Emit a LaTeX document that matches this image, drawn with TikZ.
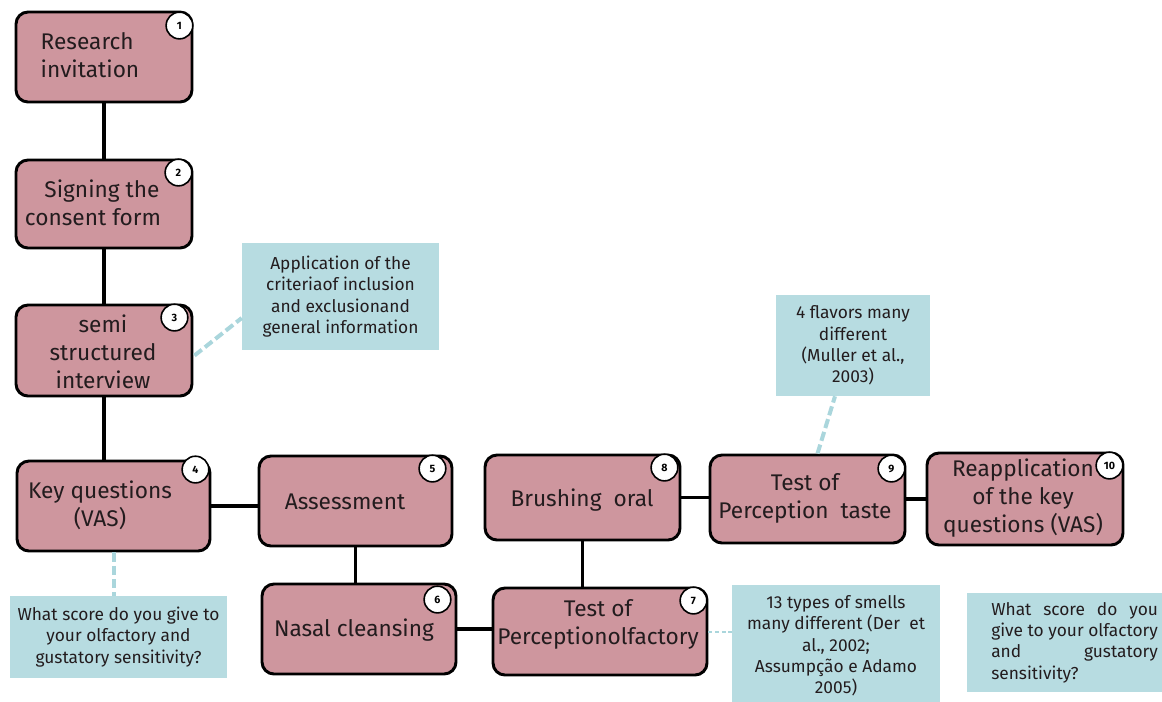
\documentclass[tikz,border=0pt]{standalone}
\usepackage{fontspec}
\setmainfont{Fira Sans}
\usetikzlibrary{calc}
\definecolor{pinkbox}{RGB}{206,150,158}
\definecolor{bluebox}{RGB}{183,220,225}
\definecolor{blueline}{RGB}{170,214,220}
\definecolor{txt}{RGB}{35,28,30}
\newcommand{\jline}[1]{\makebox[125pt][s]{#1}}
\tikzset{
  pbox/.style={draw=black, line width=2.2pt, fill=pinkbox, rounded corners=9pt, inner sep=0pt,
    text=txt, align=center, font=\fontsize{17}{21}\selectfont},
  bbox/.style={fill=bluebox, inner sep=0pt, text=txt, align=center, font=\fontsize{13}{16}\selectfont},
  num/.style={circle, draw=black, line width=1.2pt, fill=white, minimum size=20pt, inner sep=0pt,
    font=\fontsize{8}{8}\selectfont\bfseries},
  conn/.style={line width=2.4pt, draw=black},
  dconn/.style={line width=3pt, draw=blueline, dash pattern=on 7pt off 3pt},
}
\begin{document}
\begin{tikzpicture}[x=0.75pt,y=-0.75pt]
\useasboundingbox[fill=white] (0,0) rectangle (1162,701);
\begin{scope}
\clip (0,0) rectangle (1162,701);
% blue note boxes
\node[bbox, minimum width=147.75pt, minimum height=80.25pt] (bb3) at (340.5,296.5)
  {Application of the\\criteriaof inclusion\\and exclusionand\\general information};
\node[bbox, minimum width=162.75pt, minimum height=61.5pt] (bb4) at (118.5,637)
  {What score do you give to\\your olfactory and\\gustatory sensitivity?};
\node[bbox, minimum width=156pt, minimum height=101.25pt] (bb7) at (836,652.5) {};
\node[bbox] (tb7) at (836,646)
  {13 types of smells\\many different (Der\ \ et\\al., 2002;\\Assumpção e Adamo\\2005)};
\node[bbox, minimum width=115.5pt, minimum height=75.75pt] (bb9) at (853,345.5)
  {4 flavors many\\different\\(Muller et al.,\\2003)};
\node[bbox, minimum width=160pt, minimum height=74.25pt, anchor=west] (bb10) at (967,642.5) {};
\node[bbox, align=left, anchor=west] (tb10) at (991,642.5)
  {\jline{What score do you}\\\jline{give to your olfactory}\\\jline{and gustatory}\\sensitivity?};

% pink step boxes
\node[pbox, minimum width=132pt, minimum height=67.5pt] (b1) at (104,57) {};
\node[pbox, minimum width=132pt, minimum height=66pt] (b2) at (104,204) {};
\node[pbox, minimum width=132pt, minimum height=68.25pt] (b3) at (104,350.5) {};
\node[pbox, minimum width=144.75pt, minimum height=67.5pt] (b4) at (113.5,506) {};
\node[pbox, minimum width=144.75pt, minimum height=67.5pt] (b5) at (355.5,501) {};
\node[pbox, minimum width=145.5pt, minimum height=67.5pt] (b6) at (359,629) {};
\node[pbox, minimum width=160.5pt, minimum height=65.25pt] (b7) at (600,631.5) {};
\node[pbox, minimum width=146.25pt, minimum height=63.75pt] (b8) at (582.5,497.5) {};
\node[pbox, minimum width=146.25pt, minimum height=66pt] (b9) at (807.5,499) {};
\node[pbox, minimum width=147pt, minimum height=69pt] (b10) at (1025,499) {};

% texts
\node[pbox, draw=none, fill=none, align=left] (t1) at (90,55) {Research\\invitation};
\node[pbox, draw=none, fill=none] (t2) at (93,203) {\ \ \ Signing the\\consent form};
\node[pbox, draw=none, fill=none] (t3) at (103,352) {semi\\structured\\interview};
\node[pbox, draw=none, fill=none] (t4) at (100,505) {Key questions\\(VAS)};
\node[pbox, draw=none, fill=none] (t5) at (345,502) {Assessment};
\node[pbox, draw=none, fill=none] (t6) at (354,630) {Nasal cleansing};
\node[pbox, draw=none, fill=none] (t7) at (598,624) {Test of\\Perceptionolfactory};
\node[pbox, draw=none, fill=none] (t8) at (582,500) {Brushing\ \ oral};
\node[pbox, draw=none, fill=none] (t9) at (805,498) {Test of\\Perception\ \ taste};
\node[pbox, draw=none, fill=none] (t10) at (1023,498) {Reapplication\\of the key\\questions (VAS)};

% number circles
\node[num] (c1) at ($(b1.north east)+(-14,15)$) {1};
\node[num] (c2) at ($(b2.north east)+(-15,14)$) {2};
\node[num] (c3) at ($(b3.north east)+(-19,14)$) {3};
\node[num] (c4) at ($(b4.north east)+(-16,10)$) {4};
\node[num] (c5) at ($(b5.north east)+(-21,14)$) {5};
\node[num] (c6) at ($(b6.north east)+(-20,17)$) {6};
\node[num] (c7) at ($(b7.north east)+(-15,14)$) {7};
\node[num] (c8) at ($(b8.north east)+(-17,14)$) {8};
\node[num] (c9) at ($(b9.north east)+(-15,15)$) {9};
\node[num] (c10) at ($(b10.north east)+(-15,14)$) {10};

% connectors
\draw[conn] (b1.south) -- (b2.north);
\draw[conn] (b2.south) -- (b3.north);
\draw[conn] (b3.south) -- (b3.south |- b4.north);
\draw[conn] (b4.east) -- (b4.east -| b5.west);
\draw[conn] (b5.south) -- (b5.south |- b6.north);
\draw[conn] (b6.east) -- (b6.east -| b7.west);
\draw[conn] (b8.south) -- (b8.south |- b7.north);
\draw[conn] (b8.east) -- (b8.east -| b9.west);
\draw[conn] (b9.east) -- (b9.east -| b10.west);

% dashed note links
\draw[dconn] ($(b3.east)+(1,5)$) -- ($(bb3.west)+(0,21.5)$);
\draw[dconn] (b4.south) -- (b4.south |- bb4.north);
\draw[dconn] ($(b9.north)+(10,0)$) -- ($(bb9.south)+(-18,0)$);
\draw[line width=1.5pt, draw=blueline, dash pattern=on 3pt off 2pt] (b7.east) -- (b7.east -| bb7.west);
\draw[dconn] ($(b10.south)+(12,0)$) -- ($(b10.south)+(12,0)$ |- bb10.north);
\end{scope}
\end{tikzpicture}
\end{document}
